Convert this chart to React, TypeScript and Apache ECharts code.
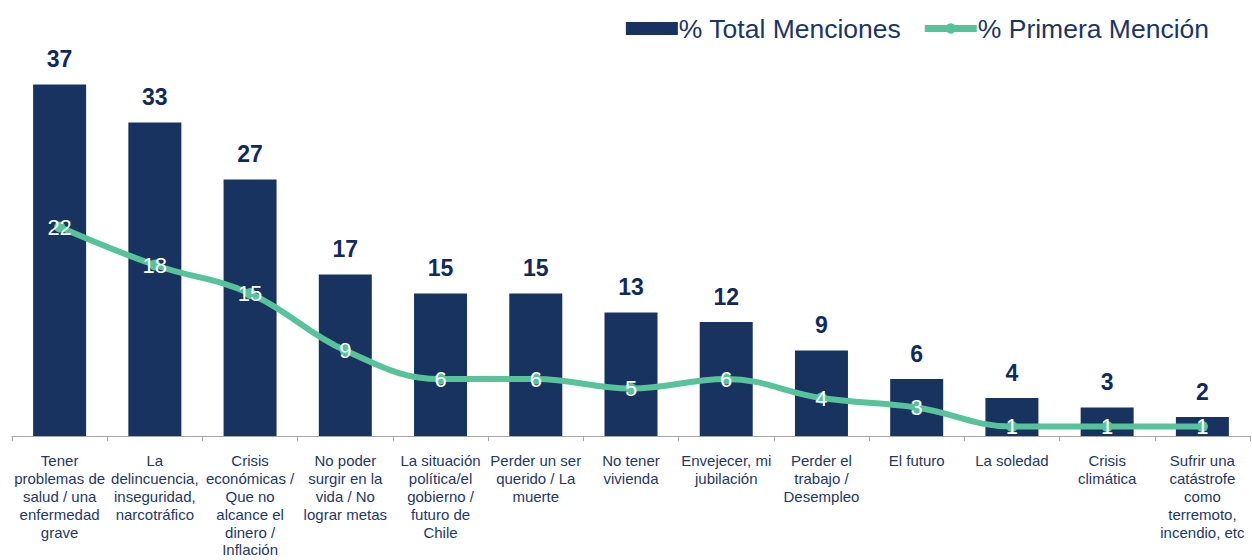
import React, { useEffect, useRef } from "react";
import * as echarts from "echarts";

const categories = [
  "Tener\nproblemas de\nsalud / una\nenfermedad\ngrave",
  "La\ndelincuencia,\ninseguridad,\nnarcotráfico",
  "Crisis\neconómicas /\nQue no\nalcance el\ndinero /\nInflación",
  "No poder\nsurgir en la\nvida / No\nlograr metas",
  "La situación\npolítica/el\ngobierno /\nfuturo de\nChile",
  "Perder un ser\nquerido / La\nmuerte",
  "No tener\nvivienda",
  "Envejecer, mi\njubilación",
  "Perder el\ntrabajo /\nDesempleo",
  "El futuro",
  "La soledad",
  "Crisis\nclimática",
  "Sufrir una\ncatástrofe\ncomo\nterremoto,\nincendio, etc",
];
const totalMenciones = [37, 33, 27, 17, 15, 15, 13, 12, 9, 6, 4, 3, 2];
const primeraMencion = [22, 18, 15, 9, 6, 6, 5, 6, 4, 3, 1, 1, 1];

const FONT = "'Liberation Sans', Arial, sans-serif";

export default function App() {
  const ref = useRef<HTMLDivElement>(null);
  useEffect(() => {
    if (!ref.current) return;
    const chart = echarts.init(ref.current, null, { renderer: "svg" });
    chart.setOption({
      animation: false,
      textStyle: { fontFamily: FONT },
      legend: {
        right: 38,
        top: 10,
        itemWidth: 52,
        itemHeight: 13,
        itemGap: 20,
        lineStyle: { width: 7 },
        textStyle: { fontSize: 26.5, color: "#1c3566", fontFamily: FONT, padding: [0, 0, 0, -4] },
        data: [
          { name: "% Total Menciones", icon: "rect" },
          { name: "% Primera Mención" },
        ],
      },
      grid: { left: 12, right: 2, top: 56, bottom: 124, outerBoundsMode: "none", containLabel: false },
      xAxis: {
        type: "category",
        data: categories,
        axisLine: { lineStyle: { color: "#a6a6a6", width: 1 } },
        axisTick: { show: true, length: 5, lineStyle: { color: "#a6a6a6" } },
        axisLabel: {
          interval: 0,
          fontSize: 15,
          lineHeight: 17.8,
          color: "#1f3864",
          margin: 16,
          fontFamily: FONT,
        },
      },
      yAxis: {
        type: "value",
        min: 0,
        max: 40,
        show: false,
        splitLine: { show: false },
      },
      series: [
        {
          name: "% Total Menciones",
          type: "bar",
          data: totalMenciones,
          barWidth: 53,
          itemStyle: { color: "#18335f" },
          label: {
            show: true,
            position: "top",
            distance: 14,
            fontSize: 23,
            fontWeight: "bold",
            color: "#102a5e",
            fontFamily: FONT,
          },
        },
        {
          name: "% Primera Mención",
          type: "line",
          data: primeraMencion,
          smooth: 0.4,
          symbol: "circle",
          symbolSize: 11,
          lineStyle: { color: "#58c39b", width: 6 },
          itemStyle: { color: "#58c39b" },
          label: {
            show: true,
            position: "inside",
            fontSize: 22,
            color: "#ffffff",
            fontFamily: FONT,
          },
        },
      ],
    });
    return () => chart.dispose();
  }, []);
  return (
    <div
      ref={ref}
      style={{ position: "fixed", left: 0, top: 0, width: 1252, height: 560, background: "#fff" }}
    />
  );
}
